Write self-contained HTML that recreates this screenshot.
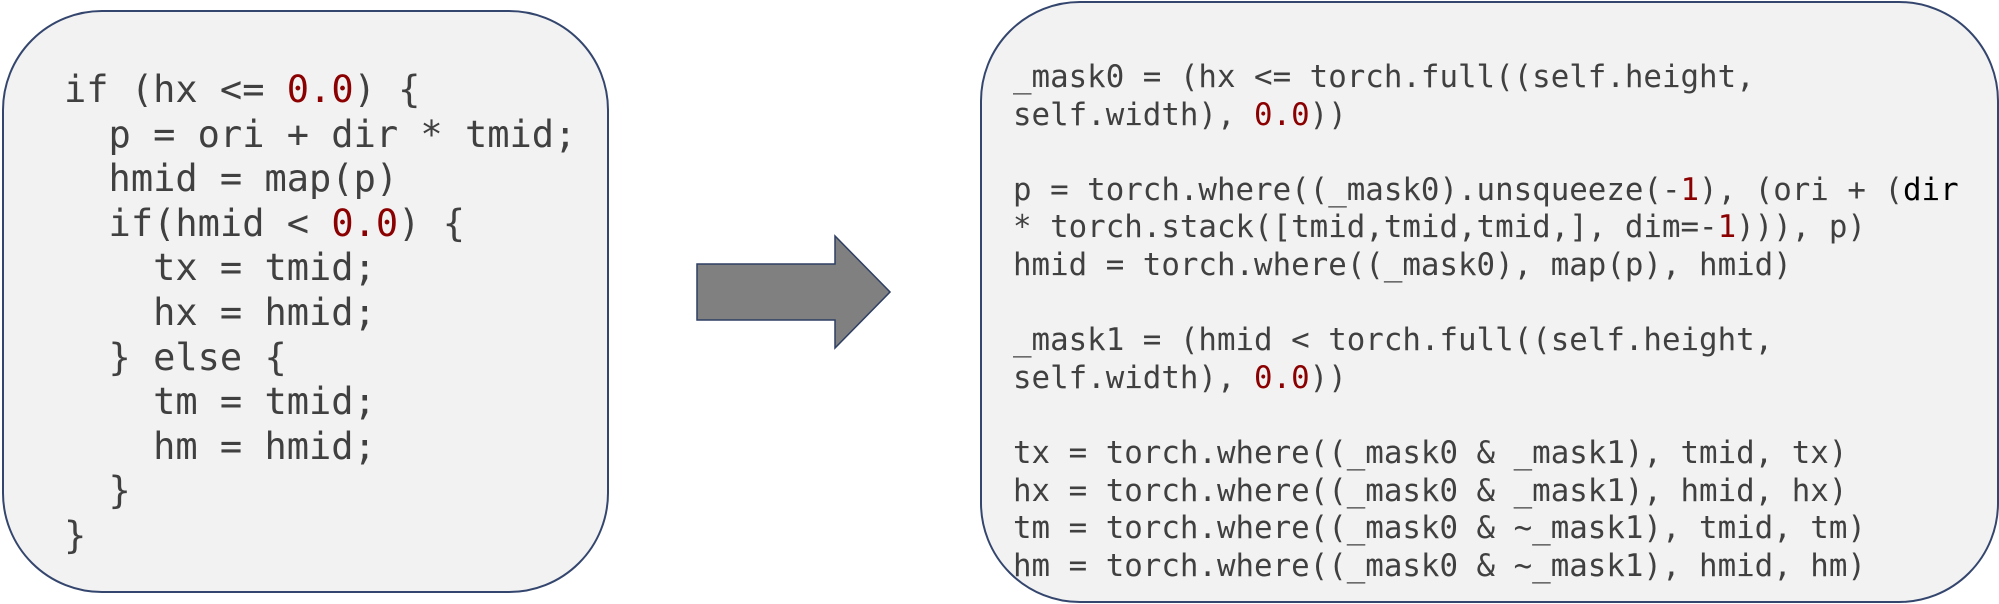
<!DOCTYPE html>
<html><head><meta charset="utf-8"><style>
html,body{margin:0;padding:0;background:#fff;}
body{width:1999px;height:604px;position:relative;overflow:hidden;}
.box{position:absolute;background:#f2f2f2;border:2px solid #34466e;box-sizing:border-box;border-radius:100px;}
.code{position:absolute;margin:0;white-space:pre;font-family:"DejaVu Sans Mono","Liberation Mono",monospace;color:#404040;}
.r{color:#8b0000;}
.k{color:#000;}
</style></head><body>
<div class="box" style="left:2px;top:10px;width:607px;height:583px;"></div>
<pre class="code" style="left:64px;top:68px;font-size:37px;line-height:44.6px;">if (hx &lt;= <span class="r">0.0</span>) {
  p = ori + dir * tmid;
  hmid = map(p)
  if(hmid &lt; <span class="r">0.0</span>) {
    tx = tmid;
    hx = hmid;
  } else {
    tm = tmid;
    hm = hmid;
  }
}</pre>
<svg style="position:absolute;left:0;top:0" width="1999" height="604">
<polygon points="697,264 835,264 835,236 890,292 835,348 835,320 697,320" fill="#808080" stroke="#2e3f63" stroke-width="1.5"/>
</svg>
<div class="box" style="left:980px;top:1px;width:1019px;height:602px;"></div>
<pre class="code" style="left:1013px;top:59px;font-size:30.8px;line-height:37.6px;">_mask0 = (hx &lt;= torch.full((self.height,
self.width), <span class="r">0.0</span>))

p = torch.where((_mask0).unsqueeze(-<span class="r">1</span>), (ori + (<span class="k">dir</span>
* torch.stack([tmid,tmid,tmid,], dim=-<span class="r">1</span>))), p)
hmid = torch.where((_mask0), map(p), hmid)

_mask1 = (hmid &lt; torch.full((self.height,
self.width), <span class="r">0.0</span>))

tx = torch.where((_mask0 &amp; _mask1), tmid, tx)
hx = torch.where((_mask0 &amp; _mask1), hmid, hx)
tm = torch.where((_mask0 &amp; ~_mask1), tmid, tm)
hm = torch.where((_mask0 &amp; ~_mask1), hmid, hm)</pre>
</body></html>
